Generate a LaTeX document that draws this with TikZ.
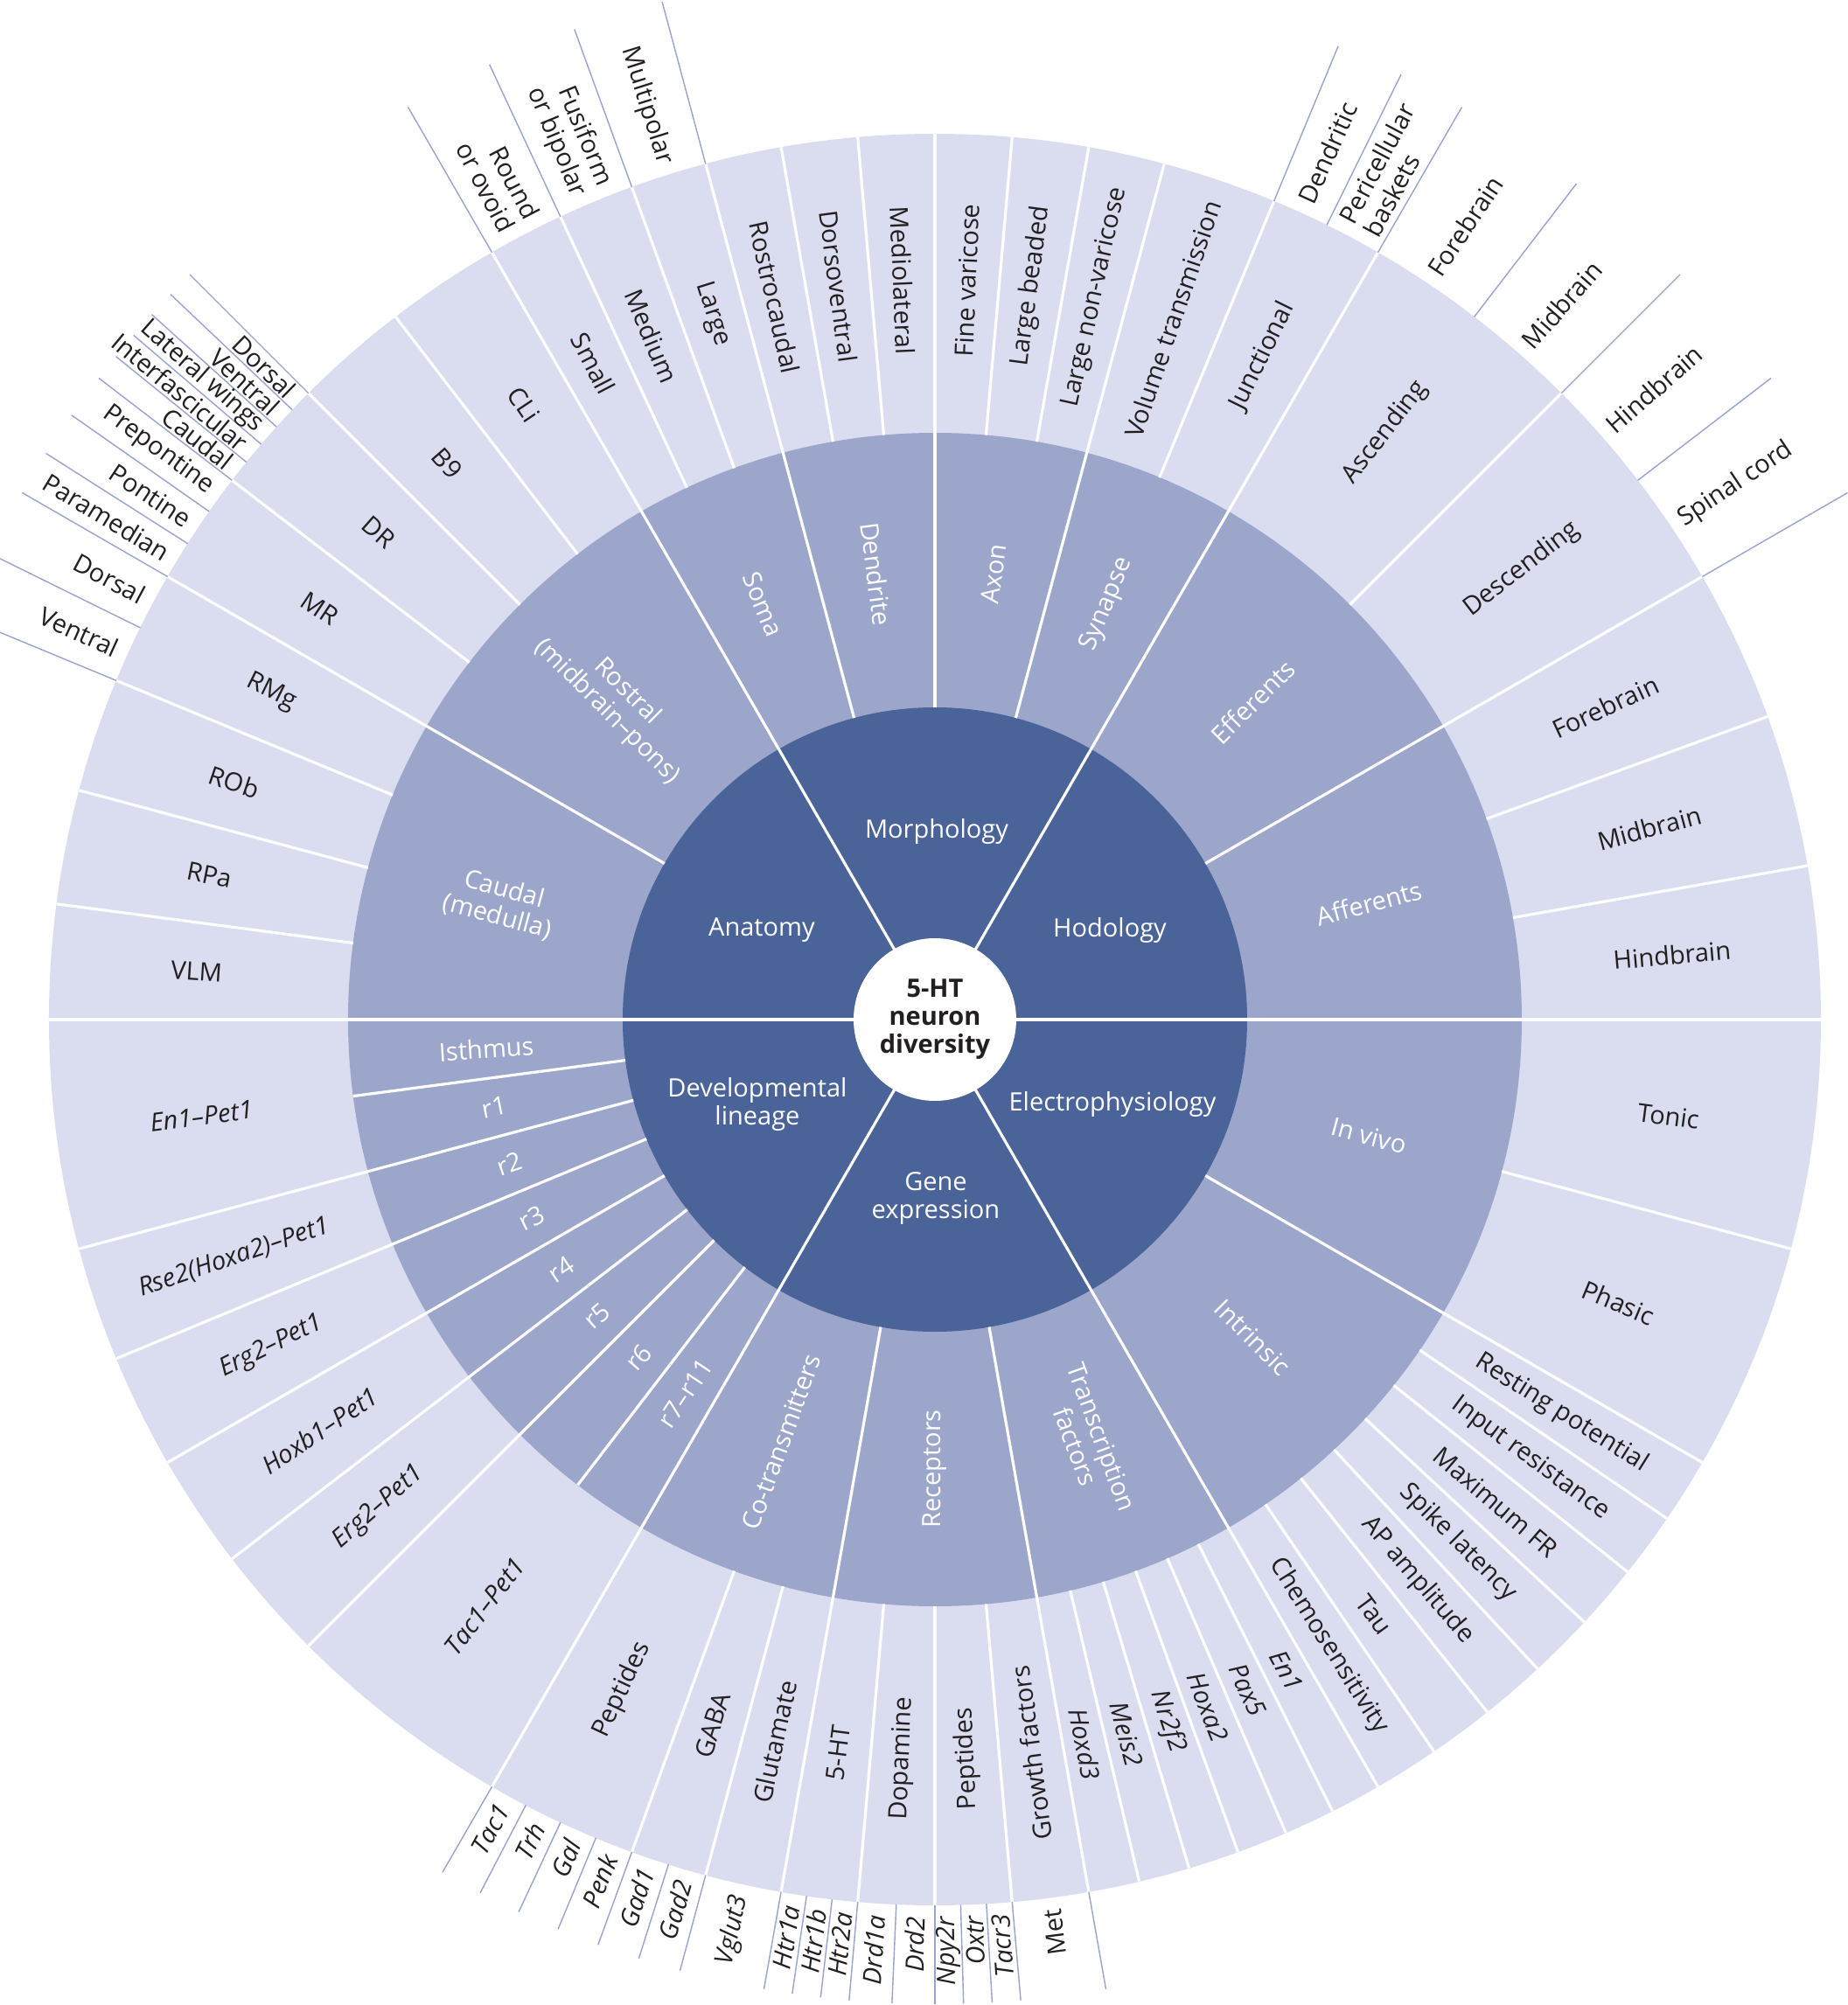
\documentclass[tikz,border=0pt]{standalone}
\usepackage{fontspec}
\setmainfont{Open Sans}
\definecolor{ringA}{HTML}{4A6399}
\definecolor{ringB}{HTML}{9CA6CB}
\definecolor{ringC}{HTML}{DADDEF}
\definecolor{olc}{HTML}{97A2CF}
\definecolor{txt}{HTML}{231F20}
\newcommand\segtext[5]{%
  \pgfmathsetmacro\segrot{#2}%
  \ifdim #2pt>90pt \pgfmathsetmacro\segrot{#2-180}\fi
  \ifdim #2pt<-79.9pt \pgfmathsetmacro\segrot{#2+180}\fi
  \node[#4, rotate=\segrot] (#1) at (#2:#3) {#5};}
\newcommand\outtext[4]{%
  \pgfmathsetmacro\segrot{#2}\def\seganc{west}\def\segal{left}%
  \ifdim #2pt>90pt \pgfmathsetmacro\segrot{#2-180}\def\seganc{east}\def\segal{right}\fi
  \ifdim #2pt<-79.9pt \pgfmathsetmacro\segrot{#2+180}\def\seganc{east}\def\segal{right}\fi
  \node[#3, rotate=\segrot, anchor=\seganc, align=\segal] (#1) at (#2:513pt) {#4};}
\begin{document}
\begin{tikzpicture}[
  every node/.style={font=\fontsize{14.5}{16}\selectfont, inner sep=0pt},
  wl/.style={white, line width=1.6pt},
  ol/.style={olc, line width=0.7pt},
  w1/.style={text=white, align=center},
  w2/.style={text=white, align=center},
  t3/.style={text=txt},
  gi/.style={text=txt, font=\fontsize{14.5}{16}\selectfont\itshape},
]
\useasboundingbox (-534.5pt,-563.5pt) rectangle (522pt,583pt);
\clip (-534.5pt,-563.5pt) rectangle (522pt,583pt);
% rings
\fill[ringC] (0,0) circle[radius=506.5pt];
\fill[ringB] (0,0) circle[radius=335.5pt];
\fill[ringA] (0,0) circle[radius=178.5pt];
% white separators
\foreach \a in {0,60,120,180,240,300}
  \draw[wl] (\a:40pt) -- (\a:506.5pt);
\foreach \a in {150,105,90,75,30,-30,-100,-80,-165,-157.5,-150,-142.5,-135}
  \draw[wl] (\a:178.5pt) -- (\a:506.5pt);
\foreach \a in {-172.5,-127.5}
  \draw[wl] (\a:178.5pt) -- (\a:335.5pt);
\foreach \a in {127.5,135,142.5,157.5,165,172.5,115,110,100,95,85,80,67.5,45,20,10,-15,-34.2857,-38.5714,-42.8571,-47.1429,-51.4286,-55.7143,-63.3333,-66.6667,-70,-73.3333,-76.6667,-85,-90,-95,-105,-110}
  \draw[wl] (\a:335.5pt) -- (\a:506.5pt);
% outer label lines
\foreach \a in {105,110,115,120,67.5,63.75,60,52.5,45,37.5,30,135,136.5,138,139.5,141,142.5,145,147.5,150,153.75,157.5}
  \draw[ol] (\a:506.5pt) -- (\a:602.5pt);
\foreach \a in {-120,-117.5,-115,-112.5,-110,-107.5,-105,-100,-98.3333,-96.6667,-95,-92.5,-90,-88.3333,-86.6667,-85,-80}
  \draw[ol] (\a:506.5pt) -- (\a:563pt);
% centre
\fill[white] (0,0) circle[radius=46.5pt];
\node[font=\fontsize{14.5}{16}\selectfont\bfseries, align=center, text=txt] (core) at (0,0) {5-HT\\neuron\\diversity};
% ring 1
\node[w1] (anat) at (-99pt,51pt) {Anatomy};
\node[w1] (morph) at (1pt,107.5pt) {Morphology};
\node[w1] (hod) at (100pt,51pt) {Hodology};
\node[w1] (elec) at (101.5pt,-48.7pt) {Electrophysiology};
\node[w1] (gene) at (0.5pt,-102pt) {Gene\\expression};
\node[w1] (dev) at (-101.5pt,-48.7pt) {Developmental\\lineage};
% ring 2
\segtext{rostral}{135}{257pt}{w2}{Rostral\\(midbrain–pons)}
\segtext{caudal}{165}{257pt}{w2}{Caudal\\(medulla)}
\segtext{soma}{112.5}{257pt}{w2}{Soma}
\segtext{dendrite}{97.5}{257pt}{w2}{Dendrite}
\segtext{axon}{82.5}{257pt}{w2}{Axon}
\segtext{synapse}{67.5}{257pt}{w2}{Synapse}
\segtext{efferents}{45}{257pt}{w2}{Efferents}
\segtext{afferents}{15}{257pt}{w2}{Afferents}
\segtext{invivo}{-15}{257pt}{w2}{In vivo}
\segtext{intrinsic}{-45}{257pt}{w2}{Intrinsic}
\segtext{tfac}{-70}{257pt}{w2}{Transcription\\factors}
\segtext{receptors}{-90}{257pt}{w2}{Receptors}
\segtext{cotrans}{-110}{257pt}{w2}{Co-transmitters}
\segtext{rseven}{-123.75}{257pt}{w2}{r7–r11}
\segtext{rsix}{-131.25}{257pt}{w2}{r6}
\segtext{rfive}{-138.75}{257pt}{w2}{r5}
\segtext{rfour}{-146.25}{257pt}{w2}{r4}
\segtext{rthree}{-153.75}{257pt}{w2}{r3}
\segtext{rtwo}{-161.25}{257pt}{w2}{r2}
\segtext{rone}{-168.75}{257pt}{w2}{r1}
\segtext{isthmus}{-176.25}{257pt}{w2}{Isthmus}
% ring 3 anatomy
\segtext{cli}{123.75}{423pt}{t3}{CLi}
\segtext{bnine}{131.25}{423pt}{t3}{B9}
\segtext{dr}{138.75}{423pt}{t3}{DR}
\segtext{mr}{146.25}{423pt}{t3}{MR}
\segtext{rmg}{153.75}{423pt}{t3}{RMg}
\segtext{rob}{161.25}{423pt}{t3}{ROb}
\segtext{rpa}{168.75}{423pt}{t3}{RPa}
\segtext{vlm}{176.25}{423pt}{t3}{VLM}
% ring 3 morphology
\segtext{small}{117.5}{423pt}{t3}{Small}
\segtext{medium}{112.5}{423pt}{t3}{Medium}
\segtext{large}{107.5}{423pt}{t3}{Large}
\segtext{rostro}{102.5}{423pt}{t3}{Rostrocaudal}
\segtext{dorsov}{97.5}{423pt}{t3}{Dorsoventral}
\segtext{mediol}{92.5}{423pt}{t3}{Mediolateral}
\segtext{finev}{87.5}{423pt}{t3}{Fine varicose}
\segtext{largeb}{82.5}{423pt}{t3}{Large beaded}
\segtext{largen}{77.5}{423pt}{t3}{Large non-varicose}
\segtext{volume}{71.25}{423pt}{t3}{Volume transmission}
\segtext{junct}{63.75}{423pt}{t3}{Junctional}
% ring 3 hodology
\segtext{ascend}{52.5}{423pt}{t3}{Ascending}
\segtext{descend}{37.5}{423pt}{t3}{Descending}
\segtext{forebr}{25}{423pt}{t3}{Forebrain}
\segtext{midbr}{15}{423pt}{t3}{Midbrain}
\segtext{hindbr}{5}{423pt}{t3}{Hindbrain}
% ring 3 electrophysiology
\segtext{tonic}{-7.5}{423pt}{t3}{Tonic}
\segtext{phasic}{-22.5}{423pt}{t3}{Phasic}
\segtext{resting}{-32.1429}{423pt}{t3}{Resting potential}
\segtext{inputr}{-36.4286}{423pt}{t3}{Input resistance}
\segtext{maxfr}{-40.7143}{423pt}{t3}{Maximum FR}
\segtext{spike}{-45}{423pt}{t3}{Spike latency}
\segtext{apamp}{-49.2857}{423pt}{t3}{AP amplitude}
\segtext{tau}{-53.5714}{423pt}{t3}{Tau}
\segtext{chemo}{-57.8571}{423pt}{t3}{Chemosensitivity}
% ring 3 gene expression
\segtext{enone}{-61.6667}{423pt}{gi}{En1}
\segtext{paxfive}{-65}{423pt}{gi}{Pax5}
\segtext{hoxatwo}{-68.3333}{423pt}{gi}{Hoxa2}
\segtext{nrtwo}{-71.6667}{423pt}{gi}{Nr2f2}
\segtext{meistwo}{-75}{423pt}{gi}{Meis2}
\segtext{hoxdthree}{-78.3333}{423pt}{gi}{Hoxd3}
\segtext{growth}{-82.5}{423pt}{t3}{Growth factors}
\segtext{peprec}{-87.5}{423pt}{t3}{Peptides}
\segtext{dopa}{-92.5}{423pt}{t3}{Dopamine}
\segtext{fiveht}{-97.5}{423pt}{t3}{5-HT}
\segtext{gluta}{-102.5}{423pt}{t3}{Glutamate}
\segtext{gaba}{-107.5}{423pt}{t3}{GABA}
\segtext{pepco}{-115}{423pt}{t3}{Peptides}
% ring 3 developmental lineage
\segtext{tacpet}{-127.5}{423pt}{gi}{Tac1–Pet1}
\segtext{ergpetb}{-138.75}{423pt}{gi}{Erg2–Pet1}
\segtext{hoxbpet}{-146.25}{423pt}{gi}{Hoxb1–Pet1}
\segtext{ergpeta}{-153.75}{423pt}{gi}{Erg2–Pet1}
\segtext{rsepet}{-161.25}{423pt}{gi}{Rse2(Hoxa2)–Pet1}
\segtext{enpet}{-172.5}{423pt}{gi}{En1–Pet1}
% outer labels: soma
\outtext{oround}{117.5}{t3}{Round\\or ovoid}
\outtext{ofusi}{112.5}{t3}{Fusiform\\or bipolar}
\outtext{omulti}{107.5}{t3}{Multipolar}
% outer labels: synapse & efferents
\outtext{odendritic}{65.625}{t3}{Dendritic}
\outtext{operi}{61.875}{t3}{Pericellular\\baskets}
\outtext{ofore}{56.25}{t3}{Forebrain}
\outtext{omid}{48.75}{t3}{Midbrain}
\outtext{ohind}{41.25}{t3}{Hindbrain}
\outtext{ospinal}{33.75}{t3}{Spinal cord}
% outer labels: anatomy
\outtext{odorsala}{135.75}{t3}{Dorsal}
\outtext{oventrala}{137.25}{t3}{Ventral}
\outtext{olat}{138.75}{t3}{Lateral wings}
\outtext{ointer}{140.25}{t3}{Interfascicular}
\outtext{ocaud}{141.75}{t3}{Caudal}
\outtext{oprep}{143.75}{t3}{Prepontine}
\outtext{opont}{146.25}{t3}{Pontine}
\outtext{opara}{148.75}{t3}{Paramedian}
\outtext{odorsalb}{151.875}{t3}{Dorsal}
\outtext{oventralb}{155.625}{t3}{Ventral}
% outer labels: gene expression
\outtext{otac}{-118.75}{gi}{Tac1}
\outtext{otrh}{-116.25}{gi}{Trh}
\outtext{ogal}{-113.75}{gi}{Gal}
\outtext{openk}{-111.25}{gi}{Penk}
\outtext{ogada}{-108.75}{gi}{Gad1}
\outtext{ogadb}{-106.25}{gi}{Gad2}
\outtext{ovglut}{-102.5}{gi}{Vglut3}
\outtext{ohtra}{-99.1667}{gi}{Htr1a}
\outtext{ohtrb}{-97.5}{gi}{Htr1b}
\outtext{ohtrc}{-95.8333}{gi}{Htr2a}
\outtext{odrda}{-93.75}{gi}{Drd1a}
\outtext{odrdb}{-91.25}{gi}{Drd2}
\outtext{onpy}{-89.1667}{gi}{Npy2r}
\outtext{ooxtr}{-87.5}{gi}{Oxtr}
\outtext{otacr}{-85.8333}{gi}{Tacr3}
\outtext{omet}{-82.5}{t3}{Met}
\end{tikzpicture}
\end{document}
